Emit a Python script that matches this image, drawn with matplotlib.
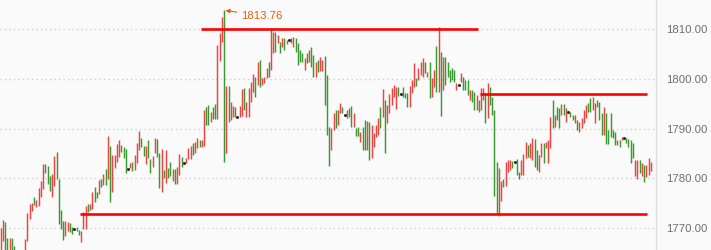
import matplotlib
matplotlib.use("Agg")
import matplotlib.pyplot as plt
import numpy as np

# ---- data ----
dirs = ("RRGGRGGGRG" "RRRRRGRRRR" "GGGRRGGGGR" "RGGDGGRRRG" "RRGGRGRGRG"
        "RRRRGGGDRG" "RRRGGRGGRR" "GGRGRGGRGR" "RGDRRRGRRG" "RRGGRGGRRR" "GRGRRGD"
        "RRGRRRRGRG" "RRRGRRGRGR" "GRDGRGGGGR" "GRGGRGRRGG" "GRRGRRGDRG"
        "GRGGRGGRGR" "RRRGRGRRRR" "RGDGGGRRRG" "RRRGRGRRGR" "GRGGGGGRDR" "GGG"
        "RGGRGRRGRG" "GGGRRGRRRG" "DGGRRRGRRG" "GRRGRRRGRG" "GRGRDGGRGR"
        "RRRGGRRGGG" "RGGGGGRGRD" "GGGGRRGRGR" "RR")

highs = [
    1770.0, 1771.6, 1771.2, 1768.0, 1768.0, 1768.0, 1766.4, 1765.0, 1764.8, 1765.2,
    1765.0, 1767.8, 1773.0, 1774.8, 1775.0, 1776.2, 1775.6, 1778.0, 1779.4, 1783.0,
    1783.0, 1782.6, 1780.4, 1781.0, 1784.6, 1785.4, 1779.8, 1773.6, 1771.4, 1771.4,
    1771.2, 1771.0, 1770.2, 1769.8, 1770.2, 1769.6, 1769.4, 1773.2, 1774.4, 1774.8,
    1774.8, 1777.2, 1778.2, 1777.2, 1779.6, 1779.8, 1781.0, 1782.0, 1788.6, 1786.6,
    1784.8, 1784.8, 1787.0, 1787.8, 1786.8, 1786.4, 1786.0, 1782.0, 1783.2, 1783.4,
    1784.8, 1787.2, 1789.6, 1788.2, 1786.6, 1786.6, 1787.8, 1784.0, 1784.6, 1788.2,
    1788.0, 1785.2, 1786.0, 1781.8, 1785.8, 1782.2, 1783.4, 1782.0, 1782.0, 1782.4,
    1785.0, 1784.4, 1783.2, 1784.2, 1786.2, 1786.6, 1787.2, 1787.4, 1788.2, 1787.8,
    1787.8, 1793.8, 1794.4, 1794.8, 1793.4, 1794.4, 1795.0, 1806.8, 1809.2, 1812.4,
    1813.76, 1798.6, 1798.6, 1795.4, 1794.6, 1794.4, 1792.4,
    1794.6, 1798.0, 1798.2, 1795.4, 1798.2, 1799.4, 1801.0, 1800.4, 1803.4, 1803.8,
    1800.2, 1800.4, 1802.2, 1803.4, 1810.2, 1809.4, 1809.4, 1808.8, 1807.4, 1808.2,
    1808.2, 1807.8, 1807.8, 1808.2, 1808.4, 1808.2, 1807.2, 1805.8, 1805.2, 1804.2,
    1805.2, 1805.8, 1806.4, 1804.8, 1803.4, 1803.8, 1804.4, 1803.8, 1804.6, 1800.8,
    1790.4, 1790.2, 1793.2, 1793.8, 1793.8, 1795.2, 1794.4, 1792.8, 1793.8, 1794.2,
    1794.6, 1793.2, 1790.2, 1790.4, 1789.4, 1790.4, 1791.8, 1791.6, 1791.4, 1790.8,
    1789.2, 1790.8, 1792.2, 1794.4, 1798.0, 1795.8, 1794.8, 1797.0, 1798.2, 1798.8,
    1798.4, 1798.4, 1797.0, 1798.4, 1797.2, 1797.2, 1798.6, 1799.8, 1803.2, 1800.2,
    1802.2, 1803.4, 1804.2, 1803.4, 1801.4, 1803.4, 1800.2, 1801.8, 1806.6, 1810.5,
    1805.4, 1804.4, 1804.4, 1803.4, 1801.8, 1802.2, 1801.8, 1799.2, 1798.8, 1801.2,
    1800.4, 1799.8, 1799.8,
    1797.8, 1797.8, 1797.4, 1796.8, 1795.8, 1798.2, 1798.2, 1797.2, 1799.2, 1798.4,
    1796.4, 1793.8, 1783.4, 1782.2, 1779.4, 1779.8, 1783.4, 1783.8, 1783.8, 1783.6,
    1783.4, 1784.0, 1781.4, 1783.8, 1785.0, 1787.4, 1786.8, 1787.2, 1788.2, 1788.0,
    1785.8, 1784.8, 1787.2, 1787.2, 1787.4, 1787.8, 1792.4, 1795.8, 1792.8, 1794.4,
    1794.2, 1795.0, 1795.0, 1794.2, 1793.4, 1793.4, 1792.8, 1792.8, 1791.8, 1791.4,
    1792.2, 1793.8, 1794.8, 1795.2, 1796.2, 1796.4, 1795.2, 1795.8, 1795.4, 1793.2,
    1794.4, 1793.2, 1789.8, 1793.2, 1789.8, 1789.4, 1787.8, 1787.8, 1788.4, 1788.2,
    1788.2, 1788.0, 1787.8, 1787.2, 1783.8, 1783.8, 1783.8, 1783.2, 1782.8, 1782.8,
    1784.2, 1783.4,
]

lows = [
    1765.5, 1767.4, 1765.5, 1765.0, 1765.2, 1765.0, 1764.5, 1762.5, 1762.0, 1763.0,
    1762.8, 1765.0, 1767.4, 1771.8, 1773.4, 1774.6, 1774.2, 1774.4, 1776.2, 1777.8,
    1781.2, 1778.8, 1777.4, 1776.2, 1778.4, 1779.8, 1770.8, 1769.8, 1767.6, 1768.4,
    1769.4, 1769.2, 1768.8, 1769.8, 1769.4, 1768.6, 1767.2, 1769.8, 1769.8, 1773.2,
    1773.6, 1773.8, 1775.2, 1776.0, 1776.8, 1778.2, 1778.6, 1778.6, 1779.8, 1775.2,
    1777.2, 1782.2, 1783.4, 1784.4, 1785.4, 1784.2, 1781.2, 1782.0, 1782.2, 1781.6,
    1781.8, 1783.2, 1785.8, 1786.4, 1784.6, 1783.0, 1784.2, 1781.2, 1782.4, 1785.2,
    1784.4, 1778.0, 1777.2, 1780.0, 1779.0, 1780.0, 1780.4, 1779.4, 1778.8, 1778.8,
    1780.8, 1782.4, 1783.2, 1783.2, 1784.0, 1784.0, 1784.8, 1785.2, 1786.2, 1786.4,
    1786.4, 1786.6, 1790.8, 1790.8, 1791.4, 1792.0, 1792.0, 1792.0, 1803.6, 1807.4,
    1783.4, 1785.2, 1791.4, 1791.8, 1792.4, 1792.4, 1792.4,
    1792.4, 1792.6, 1793.8, 1792.4, 1792.4, 1795.4, 1797.4, 1796.4, 1798.8, 1798.4,
    1798.8, 1799.2, 1800.2, 1800.4, 1801.8, 1805.2, 1805.4, 1807.2, 1805.2, 1806.4,
    1805.8, 1807.0, 1807.8, 1807.2, 1806.4, 1805.4, 1802.8, 1803.4, 1803.4, 1801.8,
    1803.2, 1803.4, 1802.4, 1800.4, 1800.4, 1801.4, 1801.6, 1801.6, 1794.8, 1788.8,
    1782.6, 1785.8, 1789.8, 1790.2, 1790.8, 1793.2, 1793.2, 1792.8, 1792.2, 1792.4,
    1790.4, 1790.4, 1788.6, 1788.6, 1787.4, 1785.8, 1785.8, 1785.8, 1783.8, 1784.2,
    1786.4, 1788.4, 1788.8, 1790.2, 1792.4, 1785.2, 1791.2, 1793.2, 1794.8, 1796.4,
    1794.0, 1796.6, 1797.0, 1796.4, 1796.2, 1794.4, 1794.4, 1797.2, 1798.4, 1798.6,
    1799.8, 1800.8, 1800.4, 1801.2, 1800.4, 1796.2, 1796.4, 1798.4, 1797.4, 1797.4,
    1792.6, 1797.8, 1798.8, 1800.4, 1799.4, 1799.8, 1799.4, 1797.8, 1798.8, 1799.4,
    1797.8, 1797.8, 1796.8,
    1795.8, 1795.4, 1793.8, 1793.8, 1793.4, 1793.8, 1795.8, 1791.2, 1792.2, 1794.8,
    1792.8, 1776.4, 1772.8, 1772.4, 1775.4, 1778.2, 1778.4, 1781.4, 1781.8, 1782.2,
    1783.4, 1780.8, 1779.8, 1780.8, 1780.8, 1784.2, 1784.4, 1784.2, 1783.8, 1782.4,
    1781.8, 1781.4, 1784.4, 1783.2, 1786.2, 1783.2, 1786.2, 1790.2, 1790.4, 1791.8,
    1790.2, 1792.8, 1792.8, 1791.4, 1793.4, 1792.4, 1791.8, 1791.2, 1789.8, 1789.4,
    1790.2, 1791.2, 1792.2, 1793.4, 1793.4, 1793.8, 1791.2, 1794.4, 1791.8, 1788.8,
    1788.8, 1787.0, 1787.0, 1788.4, 1788.2, 1786.8, 1786.8, 1786.4, 1787.8, 1788.2,
    1787.2, 1786.4, 1783.2, 1784.2, 1780.4, 1779.8, 1781.2, 1780.4, 1779.2, 1780.2,
    1780.8, 1781.6,
]

# support / resistance lines: level, start candle, end candle
line_levels = [1810.0, 1797.0, 1772.9]
line_starts = [89.7, 214.6, 35.5]
line_ends = [213.7, 289.3, 289.3]

yticks = [1770, 1780, 1790, 1800, 1810]

# ---- drawing ----
n = min(len(dirs), len(highs), len(lows))
print(len(dirs), len(highs), len(lows))
x = np.arange(n)
hi = np.array(highs[:n])
lo = np.array(lows[:n])
d = np.array(list(dirs[:n]))

UP = "#EC4343"
DOWN = "#3A9A32"
BG = "#FAFAFA"

fig = plt.figure(figsize=(7.11, 2.5), dpi=100, facecolor=BG)
ax = fig.add_axes([0, 0, 655.5 / 711, 1])
ax.set_facecolor(BG)

for yv in yticks:
    ax.axhline(yv, color="#C8C8C8", lw=0.9, ls=(0, (1.0, 2.6)), zorder=0)

m = d == "R"
ax.vlines(x[m], lo[m], hi[m], color=UP, lw=1.05, zorder=2)
m = d == "G"
ax.vlines(x[m], lo[m], hi[m], color=DOWN, lw=1.05, zorder=2)
m = d == "D"
ax.plot(x[m], hi[m], ls="none", marker="s", ms=1.0, color="#222222", zorder=2)

for lv, s, e in zip(line_levels, line_starts, line_ends):
    ax.hlines(lv, s, e, color="#FF0000", lw=1.9, zorder=3)

pk = int(np.argmax(hi))
ax.annotate(f"{hi[pk]:.2f}", xy=(pk, hi[pk]), xytext=(12, -4),
            textcoords="offset points", ha="left", va="center",
            color="#E0600A", fontsize=8.2, family="Liberation Sans",
            arrowprops=dict(arrowstyle="-|>", color="#E0600A", lw=0.8,
                            mutation_scale=6, shrinkA=1, shrinkB=1))

ax.set_xlim(-0.3, 293.1)
ax.set_ylim(1765.65, 1815.82)
ax.set_xticks([])
ax.yaxis.tick_right()
ax.set_yticks(yticks)
ax.set_yticklabels([f"{v:.2f}" for v in yticks], color="#6E6E6E",
                   fontsize=8.2, family="Liberation Sans")
ax.tick_params(axis="y", length=0, pad=7.5)
for sp in ["top", "left", "bottom"]:
    ax.spines[sp].set_visible(False)
ax.spines["right"].set_color("#DDDDDD")
ax.spines["right"].set_linewidth(1.0)

fig.savefig("out.png", dpi=100, facecolor=BG)
